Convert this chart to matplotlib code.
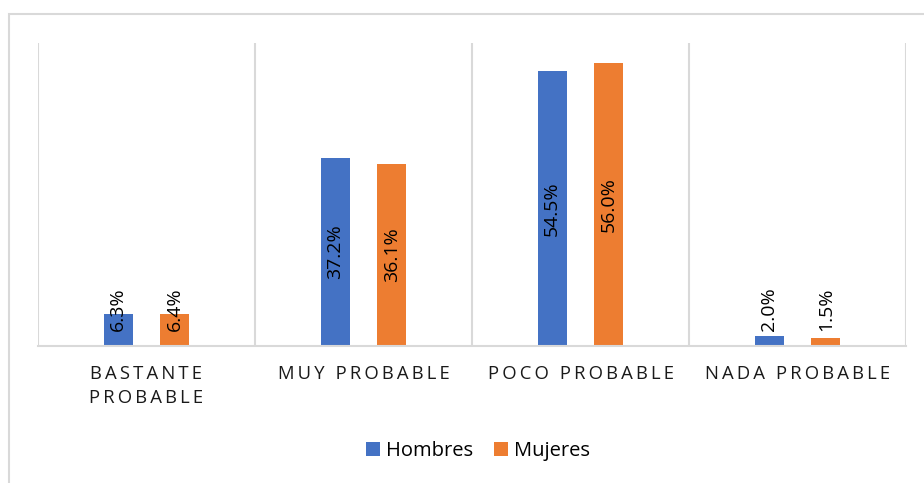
import numpy as np
import matplotlib.pyplot as plt
from matplotlib.patches import Rectangle

# data
categories = ["BASTANTE\nPROBABLE", "MUY PROBABLE", "POCO PROBABLE", "NADA PROBABLE"]
hombres = [6.3, 37.2, 54.5, 2.0]
mujeres = [6.4, 36.1, 56.0, 1.5]
series_names = ["Hombres", "Mujeres"]

BLUE = "#4472C4"
ORANGE = "#ED7D31"
GRID = "#D9D9D9"

plt.rcParams['font.family'] = ['Open Sans', 'DejaVu Sans']

THIN = "\u2009"

def spaced(s):
    # letter spacing like the original axis labels
    lines = []
    for line in s.split("\n"):
        words = [THIN.join(w) for w in line.split(" ")]
        lines.append((THIN + " " + THIN).join(words))
    return "\n".join(lines)

fig = plt.figure(figsize=(9.24, 4.83), dpi=100)
W, H = 924, 483
ax = fig.add_axes([38 / W, 1 - 346 / H, (906 - 38) / W, (346 - 43) / H])

x = np.arange(len(categories))
off = 0.131
bw = 0.133
ax.bar(x - off, hombres, bw, color=BLUE, label=series_names[0])
ax.bar(x + off, mujeres, bw, color=ORANGE, label=series_names[1])

# value labels, rotated
for xs, vals in [(x - off, hombres), (x + off, mujeres)]:
    for xi, v in zip(xs, vals):
        ypos = max(v / 2, 7.3)
        ax.text(xi, ypos, f"{v:.1f}%", rotation=90, ha="center", va="center",
                fontsize=14, color="#000000")

ax.set_xlim(-0.5, len(categories) - 0.5)
ax.set_ylim(0, 60)
ax.set_yticks([])
ax.set_xticks(x)
ax.set_xticklabels([spaced(c) for c in categories], fontsize=13.3,
                   color="#1a1a1a", linespacing=1.42)
ax.tick_params(axis="x", length=0, pad=14)
ax.set_xticks(np.arange(-0.5, len(categories)), minor=True)
ax.tick_params(axis="x", which="minor", length=0)
ax.grid(True, axis="x", which="minor", color=GRID, linewidth=1.5)
ax.grid(False, axis="x", which="major")
for side in ["top", "left", "right"]:
    ax.spines[side].set_visible(False)
ax.spines["bottom"].set_color(GRID)
ax.spines["bottom"].set_linewidth(1.5)

# chart border (runs off the right and bottom edges)
fig.patches.append(Rectangle((9 / W, -0.05), 1.0, 1 - 14 / H + 0.05,
                             transform=fig.transFigure, fill=False,
                             edgecolor=GRID, linewidth=1.5))

fig.legend(loc="center", bbox_to_anchor=(478 / W, 1 - 451 / H), ncol=2,
           frameon=False, fontsize=14.5, handlelength=0.72, handleheight=0.72,
           handletextpad=0.3, columnspacing=1.0)

fig.savefig("out.png", dpi=100)
